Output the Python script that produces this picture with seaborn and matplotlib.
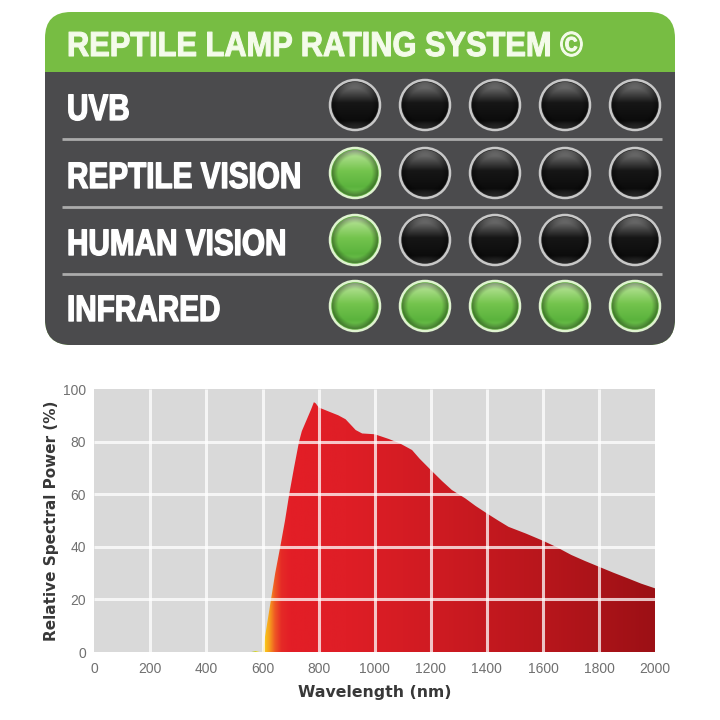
import numpy as np
import matplotlib
matplotlib.use("Agg")
import matplotlib.pyplot as plt
import seaborn as sns
from matplotlib import patheffects
from matplotlib.transforms import Affine2D
from matplotlib.patches import FancyBboxPatch, Rectangle, Circle, PathPatch
from matplotlib.colors import LinearSegmentedColormap, to_rgb

# ----------------------------------------------------
# data
# ----------------------------------------------------
title = "REPTILE LAMP RATING SYSTEM ©"
categories = ["UVB", "REPTILE VISION", "HUMAN VISION", "INFRARED"]
ratings = [0, 1, 1, 5]
max_rating = 5

wavelength = [560, 575, 590, 600, 615, 630, 645, 663, 680, 695, 712, 730, 740,
              748, 760, 772, 783, 790, 800, 837, 870, 896, 932, 955, 1000, 1050,
              1090, 1133, 1160, 1200, 1240, 1275, 1323, 1360, 1400, 1440, 1477,
              1540, 1600, 1650, 1701, 1750, 1800, 1850, 1903, 1950, 2000]
power = [0, 0.4, 0, 0, 10, 20, 30, 40, 50, 60, 70, 80, 84,
         86, 89, 92, 95, 94.5, 93, 91.4, 90, 88.5, 84.4, 83.1, 82.8, 81,
         79.3, 76.8, 73.5, 69.2, 65, 61.6, 58.4, 55.5, 52.7, 50, 47.6,
         45, 42.3, 39.8, 36.9, 34.6, 32.4, 30.2, 28, 26, 24.2]

x_ticks = [0, 200, 400, 600, 800, 1000, 1200, 1400, 1600, 1800, 2000]
y_ticks = [0, 20, 40, 60, 80, 100]

# ----------------------------------------------------
# style
# ----------------------------------------------------
sns.set_theme(style="darkgrid")
plt.rcParams["font.family"] = ["Liberation Sans", "DejaVu Sans"]


class Squeeze(patheffects.AbstractPathEffect):
    # narrows the glyphs horizontally around the text anchor (condensed look)
    # and thickens them a little with a stroke of the same colour
    def __init__(self, sx, x0, stroke=0.0):
        super().__init__()
        self.sx = sx
        self.x0 = x0
        self.stroke = stroke

    def draw_path(self, renderer, gc, tpath, affine, rgbFace=None):
        tr = affine + Affine2D().translate(-self.x0, 0).scale(self.sx, 1).translate(self.x0, 0)
        if self.stroke > 0 and rgbFace is not None:
            gc0 = renderer.new_gc()
            gc0.copy_properties(gc)
            gc0.set_linewidth(self.stroke)
            gc0.set_foreground(rgbFace)
            gc0.set_joinstyle("round")
            renderer.draw_path(gc0, tpath, tr, rgbFace)
            gc0.restore()
        else:
            renderer.draw_path(gc, tpath, tr, rgbFace)


fig = plt.figure(figsize=(7.2, 7.2), dpi=100)
fig.patch.set_facecolor("white")
renderer = fig.canvas.get_renderer()

# ----------------------------------------------------
# rating panel (pixel coordinates)
# ----------------------------------------------------
panel = fig.add_axes([0, 0, 1, 1])
panel.set_axis_off()
panel.patch.set_alpha(0)
panel.set_xlim(0, 720)
panel.set_ylim(720, 0)

px, py, pw, ph = 45, 12, 630, 333
header_h = 60
green = "#77bd43"
dark = "#4b4b4d"

box_g = FancyBboxPatch((px, py), pw, ph, boxstyle="round,pad=0,rounding_size=26",
                       fc=green, ec="none")
panel.add_patch(box_g)
box_d = FancyBboxPatch((px, py), pw, ph, boxstyle="round,pad=0,rounding_size=26",
                       fc=dark, ec="none")
panel.add_patch(box_d)
box_d.set_clip_path(Rectangle((0, py + header_h), 720, 720, transform=panel.transData))

text_x = 67
x0_disp = panel.transData.transform((text_x, 0))[0]

t = panel.text(text_x, 56, title, color="#f4fbea", fontsize=25, fontweight="bold",
               va="baseline", ha="left")
t.set_path_effects([Squeeze(517 / t.get_window_extent(renderer).width, x0_disp, stroke=0.8)])

row_y = [105, 173, 240, 306]
sep_y = [139, 207, 274]
for y in sep_y:
    panel.plot([62, 662], [y, y], color="#ababab", lw=2, solid_capstyle="butt")

probe = panel.text(0, 0, "REPTILE VISION", fontsize=26.5, fontweight="bold")
sx_rows = 234 / probe.get_window_extent(renderer).width
probe.remove()
for lab, y in zip(categories, row_y):
    t = panel.text(text_x, y + 15, lab, color="white", fontsize=26.5, fontweight="bold",
                   va="baseline", ha="left")
    t.set_path_effects([Squeeze(sx_rows, x0_disp, stroke=1.0)])

dot_x = [355, 425, 495, 565, 635]


def ball_image(on, n=64):
    t = np.linspace(0, 1, n)
    if on:
        stops = [(0, "#d3efbf"), (0.12, "#a9dd88"), (0.45, "#74c44d"), (0.8, "#5bb33d"), (1, "#72c452")]
    else:
        stops = [(0, "#8c8c8c"), (0.15, "#5e5e5e"), (0.45, "#161616"), (0.85, "#0c0c0c"), (1, "#3a3a3a")]
    cmap = LinearSegmentedColormap.from_list("b", stops)
    col = cmap(t)[:, :3]
    img = np.repeat(col[:, None, :], n, axis=1)
    xx, yy = np.meshgrid(np.linspace(-1, 1, n), np.linspace(-1, 1, n))
    rr = np.sqrt(xx ** 2 + yy ** 2)
    shade = np.clip(1 - 0.35 * np.clip((rr - 0.75) / 0.25, 0, 1), 0, 1)
    return img * shade[:, :, None]


for r, y in zip(ratings, row_y):
    for i, x in enumerate(dot_x):
        on = i < r
        panel.add_patch(Circle((x, y), 25, fc="#5fae3f" if on else "#2c2c2c",
                               ec="none", zorder=2))
        r_in = 23
        im = panel.imshow(ball_image(on), extent=(x - r_in, x + r_in, y + r_in, y - r_in),
                          aspect="auto", zorder=3, interpolation="bilinear")
        clip = Circle((x, y), r_in, transform=panel.transData, fc="none", ec="none")
        panel.add_patch(clip)
        im.set_clip_path(clip)

ring_x = [x for _ in row_y for x in dot_x]
ring_y = [y for y in row_y for _ in dot_x]
ring_cols = ["#dff3d0" if i < r else "#c8c8c8" for r in ratings for i in range(max_rating)]
sns.scatterplot(x=ring_x, y=ring_y, ax=panel, s=(50 * 0.72) ** 2,
                facecolor="none", edgecolor=ring_cols, linewidth=1.8, zorder=4, legend=False)

panel.set_xlim(0, 720)
panel.set_ylim(720, 0)
panel.set_axis_off()

# ----------------------------------------------------
# spectrum chart
# ----------------------------------------------------
ax = fig.add_axes([0.131, 0.0944, 0.779, 0.3653])
ax.set_facecolor("#d9d9d9")
ax.grid(False)
for s in ax.spines.values():
    s.set_visible(False)

poly = ax.fill_between(wavelength, power, 0, color="none", lw=0)
clip = PathPatch(poly.get_paths()[0], transform=ax.transData, fc="none", ec="none")
ax.add_patch(clip)

grad_stops = [(560, "#9cc23a"), (585, "#f6e21c"), (605, "#fbd11a"), (625, "#f6a01d"),
              (645, "#ef5724"), (668, "#e52a27"), (700, "#e31e26"), (900, "#df1e26"),
              (1200, "#d01b22"), (1600, "#b8161c"), (2000, "#9c1015")]
xs = np.linspace(0, 2000, 1200)
gx = [s[0] for s in grad_stops]
grad = np.stack([np.interp(xs, gx, [to_rgb(s[1])[k] for s in grad_stops]) for k in range(3)],
                axis=-1)[None, :, :].repeat(4, axis=0)
im = ax.imshow(grad, extent=(0, 2000, 0, 100), aspect="auto", zorder=1,
               interpolation="bilinear", origin="lower")
im.set_clip_path(clip)

ax.vlines(x_ticks[1:-1], 0, 100, color="white", lw=2.2, alpha=0.75, zorder=3)
ax.hlines(y_ticks[1:-1], 0, 2000, color="white", lw=2.2, alpha=0.75, zorder=3)

ax.set_xlim(0, 2000)
ax.set_ylim(0, 100)
ax.set_xticks(x_ticks)
ax.set_yticks(y_ticks)
ax.tick_params(length=0, labelsize=10, labelcolor="#707070")
ax.tick_params(axis="x", pad=7)
ax.tick_params(axis="y", pad=6)
ax.set_xlabel("Wavelength (nm)", fontsize=11.3, fontweight="bold", color="#383838",
              labelpad=7, family="DejaVu Sans")
ax.set_ylabel("Relative Spectral Power (%)", fontsize=11, fontweight="bold", color="#383838",
              labelpad=3, family="DejaVu Sans")

fig.savefig("out.png", dpi=100, facecolor="white")
